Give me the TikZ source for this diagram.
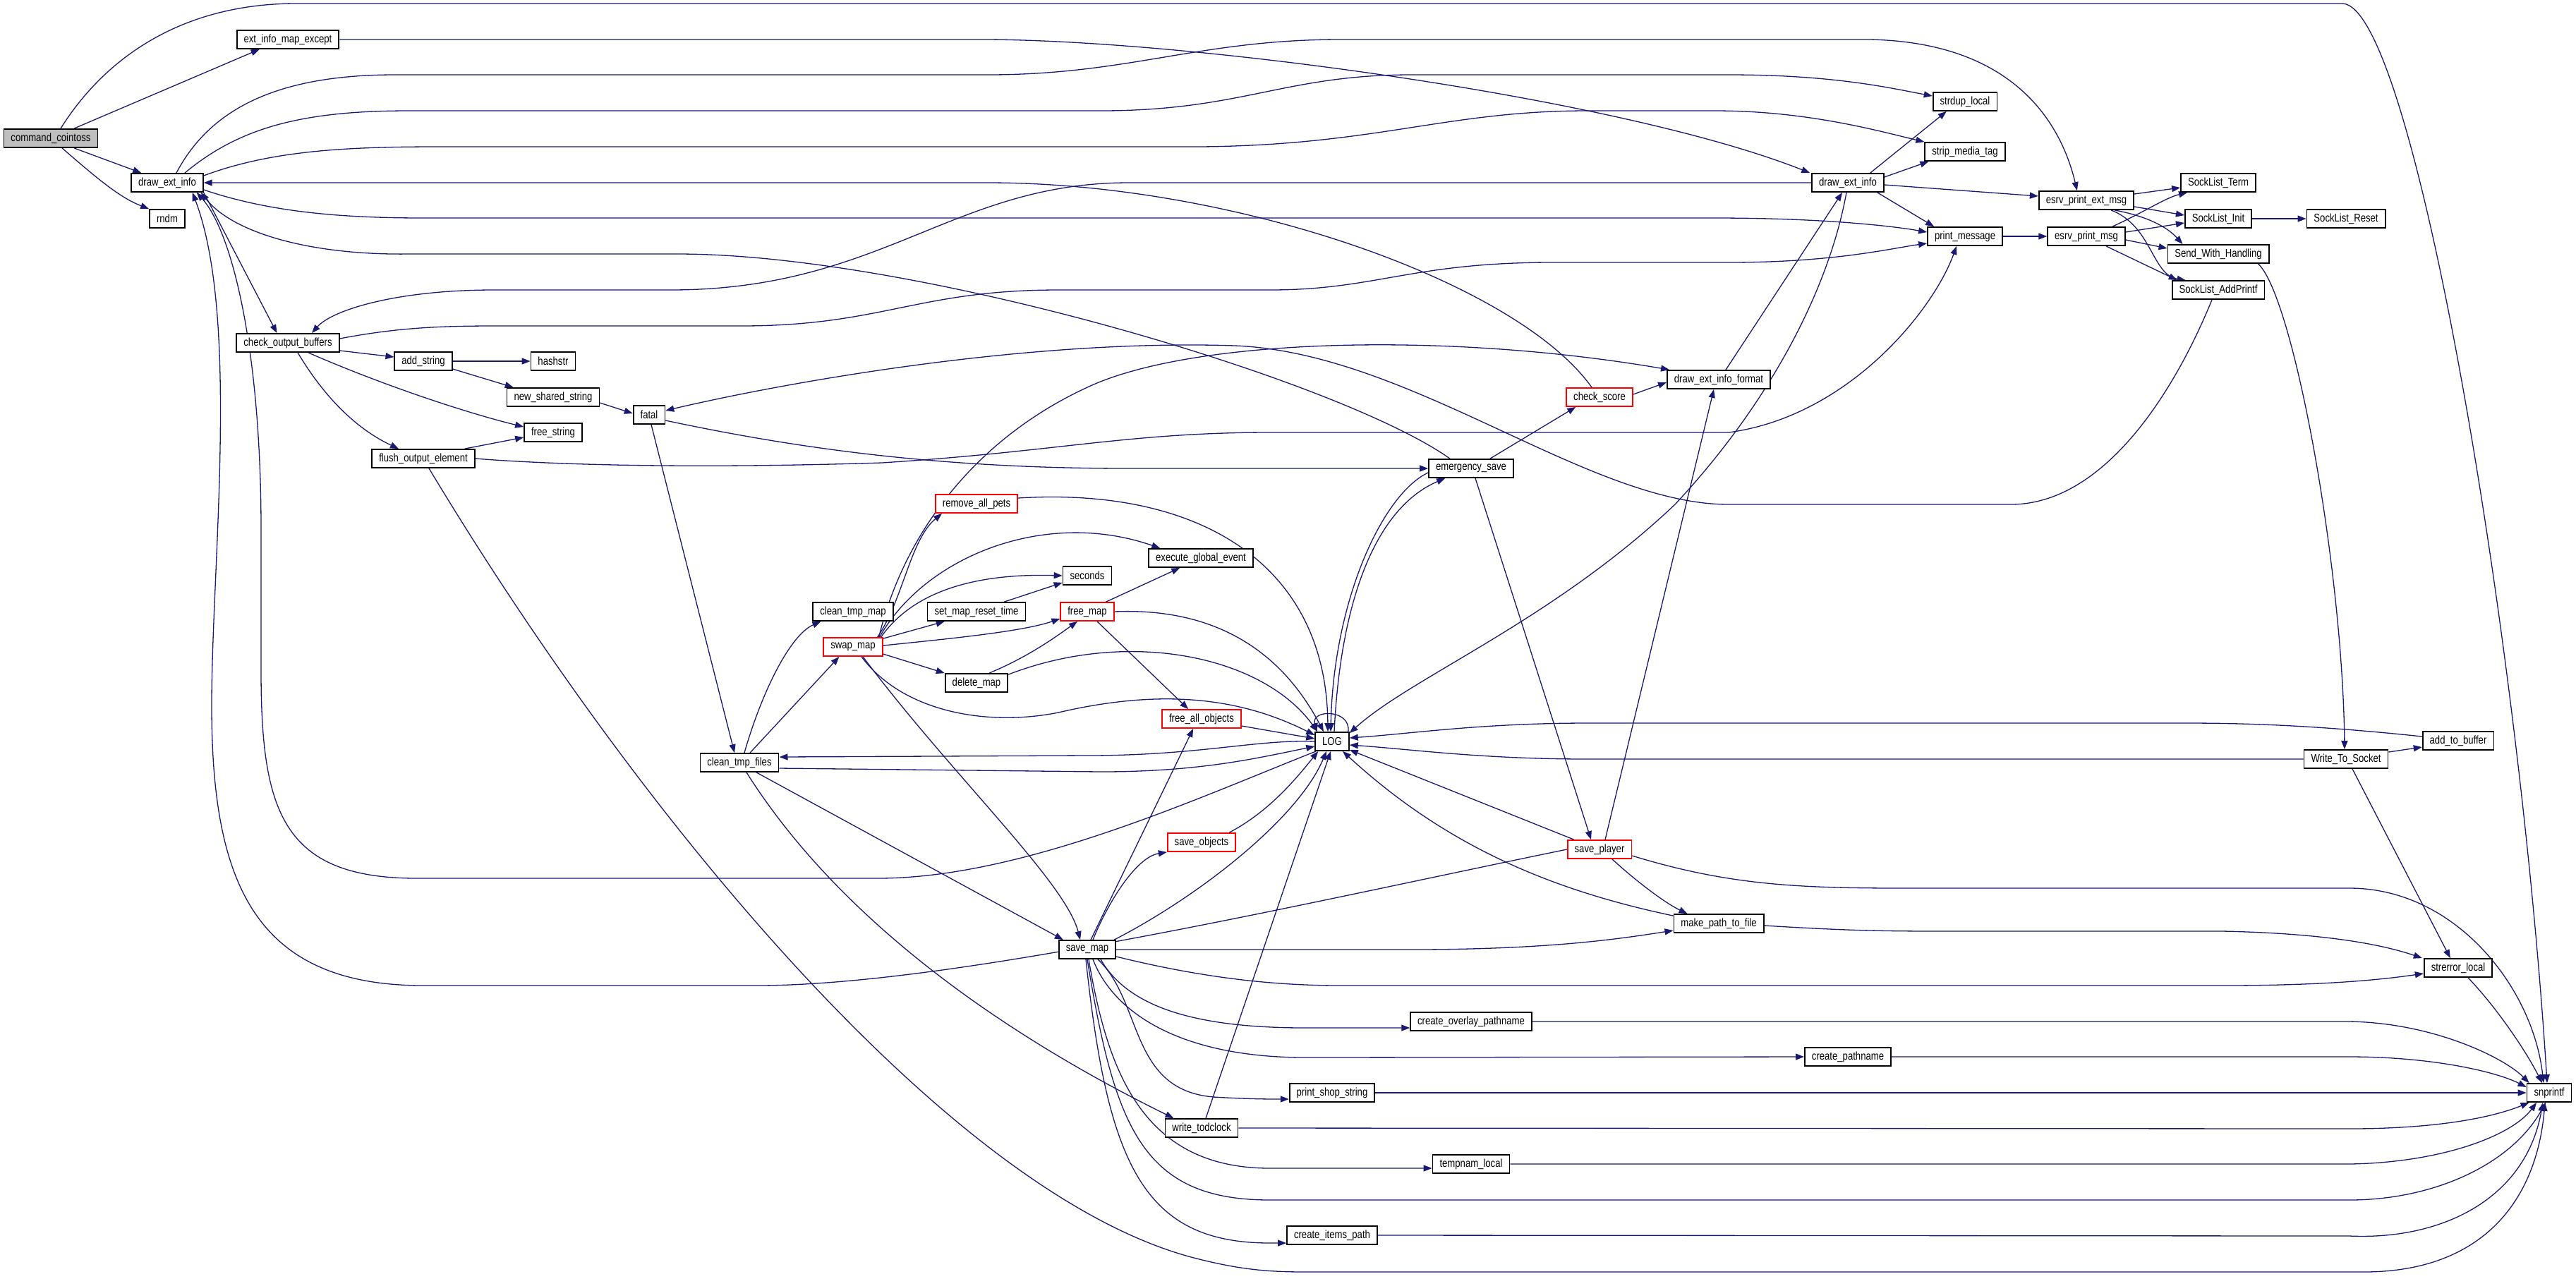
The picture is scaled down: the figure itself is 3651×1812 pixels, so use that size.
\documentclass[tikz,border=0pt]{standalone}
\usepackage{fontspec}
\usetikzlibrary{arrows.meta,calc}
\newfontfamily\fnfont{Liberation Sans}[FakeStretch=0.82]
\definecolor{edgeblue}{HTML}{191970}
\pgfdeclarelayer{edges}
\pgfsetlayers{edges,main}
\begin{document}
\begin{tikzpicture}[x=0.5pt,y=-0.5pt,
  fn/.style={draw=black,line width=0.9pt,fill=white,font=\fnfont\fontsize{8}{9}\selectfont,
    inner xsep=5pt,inner ysep=0pt,minimum height=13pt},
  trunc/.style={fn,draw=red},
  root/.style={fn,fill=black!25},
  call/.style={draw=edgeblue,line width=0.65pt,-{Triangle[length=6pt,width=4.5pt]}}]
  \useasboundingbox (0,0) rectangle (3651,1812);

  %% functions, one column per call depth
  \node [root] (cointoss) at (72,196) {command\_cointoss};
  \node [fn] (mapexcept) at (408,56) {ext\_info\_map\_except};
  \node [fn] (deiA) at (237,259) {draw\_ext\_info};
  \node [fn] (rndm) at (237,310) {rndm};
  \node [fn] (cob) at (408,486) {check\_output\_buffers};
  \node [fn] (addstr) at (600,512) {add\_string};
  \node [fn] (hashstr) at (784,512) {hashstr};
  \node [fn] (newshared) at (784,563) {new\_shared\_string};
  \node [fn] (freestr) at (784,613) {free\_string};
  \node [fn] (flush) at (600,650) {flush\_output\_element};
  \node [fn] (fatal) at (920,588) {fatal};
  \node [fn] (cleanfiles) at (1048,1081) {clean\_tmp\_files};
  \node [fn] (cleanmap) at (1209,867) {clean\_tmp\_map};
  \node [trunc] (swapmap) at (1209,917) {swap\_map};
  \node [trunc] (rmpets) at (1384,714) {remove\_all\_pets};
  \node [fn] (setreset) at (1384,867) {set\_map\_reset\_time};
  \node [fn] (deletemap) at (1384,968) {delete\_map};
  \node [fn] (seconds) at (1541,816) {seconds};
  \node [trunc] (freemap) at (1541,867) {free\_map};
  \node [fn] (savemap) at (1541,1346) {save\_map};
  \node [fn] (execglobal) at (1702,791) {execute\_global\_event};
  \node [trunc] (freeall) at (1703,1019) {free\_all\_objects};
  \node [trunc] (saveobj) at (1703,1194) {save\_objects};
  \node [fn] (writetod) at (1703,1599) {write\_todclock};
  \node [fn] (log) at (1888,1051) {LOG};
  \node [fn] (printshop) at (1888,1549) {print\_shop\_string};
  \node [fn] (itemspath) at (1888,1751) {create\_items\_path};
  \node [fn] (emsave) at (2085,664) {emergency\_save};
  \node [fn] (overlay) at (2085,1448) {create\_overlay\_pathname};
  \node [fn] (tempnam) at (2085,1650) {tempnam\_local};
  \node [trunc] (checkscore) at (2267,563) {check\_score};
  \node [trunc] (saveplayer) at (2267,1204) {save\_player};
  \node [fn] (deiformat) at (2436,538) {draw\_ext\_info\_format};
  \node [fn] (mkpath) at (2436,1309) {make\_path\_to\_file};
  \node [fn] (deiB) at (2619,259) {draw\_ext\_info};
  \node [fn] (pathname) at (2619,1498) {create\_pathname};
  \node [fn] (strdup) at (2785,144) {strdup\_local};
  \node [fn] (stripmedia) at (2785,215) {strip\_media\_tag};
  \node [fn] (printmsg) at (2785,335) {print\_message};
  \node [fn] (extmsg) at (2957,284) {esrv\_print\_ext\_msg};
  \node [fn] (esrvmsg) at (2957,335) {esrv\_print\_msg};
  \node [fn] (slterm) at (3144,259) {SockList\_Term};
  \node [fn] (slinit) at (3144,310) {SockList\_Init};
  \node [fn] (sendwh) at (3144,360) {Send\_With\_Handling};
  \node [fn] (sladd) at (3144,411) {SockList\_AddPrintf};
  \node [fn] (slreset) at (3325,310) {SockList\_Reset};
  \node [fn] (wts) at (3325,1076) {Write\_To\_Socket};
  \node [fn] (addbuf) at (3484,1050) {add\_to\_buffer};
  \node [fn] (strerr) at (3484,1372) {strerror\_local};
  \node [fn] (snprintf) at (3613,1549) {snprintf};

  \begin{pgfonlayer}{edges}
  %% command_cointoss
  \draw [call] ($(cointoss.north)+(14,0)$) .. controls (150,80) and (260,5) .. (420,5) -- (3320,5) .. controls (3420,8) and (3570,900) .. ($(snprintf.north)+(-3,0)$);
  \draw [call] ($(cointoss.north)+(33,0)$) -- ($(mapexcept.south west)+(33,0)$);
  \draw [call] ($(cointoss.south)+(33,0)$) -- ($(deiA.north west)+(15,0)$);
  \draw [call] ($(cointoss.south)+(16,0)$) .. controls (140,255) and (170,280) .. (rndm.north west);
  \draw [call] (mapexcept.east) -- (1400,56) .. controls (1700,58) and (2300,140) .. ($(deiB.north west)+(-2,0)$);

  %% left draw_ext_info
  \draw [call] ($(deiA.north)+(13,0)$) .. controls (300,150) and (400,106) .. (560,106) -- (1400,106) .. controls (1600,106) and (1700,56) .. (1900,56) -- (2650,56) .. controls (2850,60) and (2920,170) .. ($(extmsg.north west)+(55,0)$);
  \draw [call] ($(deiA.north)+(25,0)$) .. controls (340,180) and (430,157) .. (580,157) -- (1560,157) .. controls (1760,157) and (1820,106) .. (2000,106) -- (2450,106) .. controls (2600,106) and (2680,125) .. ($(strdup.west)+(0,-8)$);
  \draw [call] ($(deiA.east)+(0,-10)$) .. controls (380,215) and (480,208) .. (620,208) -- (1700,208) .. controls (1950,206) and (2050,157) .. (2250,157) -- (2430,157) .. controls (2560,157) and (2660,185) .. (stripmedia.north west);
  \draw [call] ($(deiA.east)+(0,10)$) .. controls (380,300) and (480,309) .. (600,309) -- (2430,309) .. controls (2580,309) and (2680,320) .. ($(printmsg.west)+(0,-6)$);
  \draw [call] (deiA.south east) -- ($(cob.north west)+(58,0)$);

  %% back into the left draw_ext_info
  \draw [call] ($(checkscore.north)+(-11,0)$) .. controls (2150,400) and (1750,259) .. (1400,259) -- (deiA.east);
  \draw [call] ($(emsave.north)+(-30,0)$) .. controls (1900,540) and (1300,360) .. (960,360) -- (580,360) .. controls (440,362) and (330,330) .. ($(deiA.south east)+(-4,0)$);
  \draw [call] ($(log.south west)+(2,0)$) .. controls (1700,1130) and (1450,1245) .. (1244,1245) -- (591,1245) .. controls (400,1245) and (370,1150) .. (370,950) -- (370,750) .. controls (370,500) and (330,330) .. ($(deiA.south east)+(-10,0)$);
  \draw [call] (saveplayer.west) .. controls (1850,1280) and (1350,1397) .. (1072,1397) -- (600,1397) .. controls (360,1397) and (300,1250) .. (300,1000) .. controls (300,800) and (340,450) .. ($(deiA.south east)+(-16,0)$);

  %% check_output_buffers
  \draw [call] (deiB.west) -- (1600,259) .. controls (1350,259) and (1250,411) .. (950,411) -- (700,411) .. controls (560,411) and (470,440) .. ($(cob.north)+(34,0)$);
  \draw [call] ($(cob.east)+(0,-6)$) .. controls (560,465) and (620,462) .. (700,462) -- (1050,462) .. controls (1250,462) and (1300,411) .. (1500,411) -- (1800,411) .. controls (1950,411) and (2000,372) .. (2200,372) -- (2450,372) .. controls (2600,372) and (2680,352) .. ($(printmsg.west)+(0,10)$);
  \draw [call] ($(cob.east)+(0,11)$) -- ($(addstr.west)+(0,-6)$);
  \draw [call] ($(cob.south)+(29,0)$) .. controls (540,545) and (660,585) .. ($(freestr.west)+(0,-8)$);
  \draw [call] ($(cob.south)+(14,0)$) .. controls (470,580) and (520,615) .. ($(flush.north)+(-35,0)$);
  \draw [call] (addstr.east) -- (hashstr.west);
  \draw [call] ($(addstr.east)+(0,11)$) -- ($(newshared.north west)+(10,0)$);
  \draw [call] ($(newshared.east)+(0,8)$) -- ($(fatal.west)+(0,-2)$);
  \draw [call] ($(flush.north east)+(-15,0)$) -- ($(freestr.west)+(0,7)$);
  \draw [call] (flush.east) .. controls (800,660) and (1000,664) .. (1250,656) .. controls (1500,640) and (1600,613) .. (1800,613) -- (2450,613) .. controls (2620,590) and (2740,440) .. ($(printmsg.south)+(-12,0)$);
  \draw [call] ($(flush.south)+(8,0)$) .. controls (900,1150) and (1350,1700) .. (1700,1785) .. controls (1760,1800) and (1800,1803) .. (1850,1803) -- (3350,1803) .. controls (3520,1803) and (3595,1700) .. ($(snprintf.south)+(-6,0)$);

  %% fatal
  \draw [call] ($(fatal.south)+(3,0)$) -- ($(cleanfiles.north)+(-7,0)$);
  \draw [call] ($(fatal.east)+(0,8)$) .. controls (1150,640) and (1350,664) .. (1600,664) -- (emsave.west);
  \draw [call] ($(sladd.south)+(-9,0)$) .. controls (3080,560) and (2980,715) .. (2850,715) -- (2450,715) .. controls (2250,715) and (2000,500) .. (1750,490) .. controls (1450,480) and (1100,545) .. ($(fatal.east)+(0,-6)$);

  %% clean_tmp_files
  \draw [call] ($(cleanfiles.north)+(7,0)$) .. controls (1080,980) and (1120,900) .. ($(cleanmap.south west)+(12,0)$);
  \draw [call] ($(cleanfiles.north)+(15,0)$) -- ($(swapmap.south west)+(23,0)$);
  \draw [call] ($(cleanfiles.south)+(24,0)$) -- ($(savemap.north west)+(7,0)$);
  \draw [call] ($(cleanfiles.south)+(10,0)$) .. controls (1200,1320) and (1450,1480) .. ($(writetod.north west)+(13,0)$);
  \draw [call] ($(cleanfiles.east)+(0,8)$) -- (1560,1094) .. controls (1700,1094) and (1780,1075) .. ($(log.west)+(0,7)$);
  \draw [call] (log.west) .. controls (1780,1048) and (1700,1071) .. (1540,1071) -- ($(cleanfiles.east)+(0,-8)$);

  %% swap_map
  \draw [call] ($(swapmap.north east)+(-8,0)$) .. controls (1280,850) and (1290,765) .. ($(rmpets.south west)+(10,0)$);
  \draw [call] ($(swapmap.north east)+(-5,0)$) .. controls (1310,790) and (1480,720) .. ($(execglobal.north west)+(17,0)$);
  \draw [call] ($(swapmap.north east)+(-3,0)$) .. controls (1300,830) and (1400,813) .. (seconds.west);
  \draw [call] ($(swapmap.north east)+(0,2)$) -- ($(setreset.south west)+(25,0)$);
  \draw [call] ($(swapmap.east)+(0,-2)$) .. controls (1350,905) and (1450,895) .. ($(freemap.west)+(0,10)$);
  \draw [call] ($(swapmap.east)+(0,10)$) -- (deletemap.north west);
  \draw [call] ($(swapmap.south)+(12,0)$) .. controls (1280,1010) and (1400,1030) .. (1500,1010) .. controls (1650,975) and (1760,990) .. ($(log.west)+(0,-9)$);
  \draw [call] ($(swapmap.south)+(14,0)$) .. controls (1350,1100) and (1510,1250) .. ($(savemap.north)+(-10,0)$);
  \draw [call] ($(swapmap.north east)+(-6,0)$) .. controls (1280,760) and (1380,620) .. (1550,545) .. controls (1700,480) and (2050,470) .. ($(deiformat.north west)+(4,0)$);
  \draw [call] ($(setreset.north east)+(-31,0)$) -- ($(seconds.south west)+(0,-4)$);
  \draw [call] ($(freemap.north east)+(-12,0)$) -- ($(execglobal.south west)+(45,0)$);
  \draw [call] ($(freemap.south)+(14,0)$) -- ($(freeall.north west)+(38,0)$);
  \draw [call] (freemap.east) .. controls (1750,860) and (1830,950) .. ($(log.north)+(-12,0)$);
  \draw [call] ($(deletemap.north)+(18,0)$) .. controls (1460,930) and (1500,900) .. ($(freemap.south)+(-14,0)$);
  \draw [call] ($(deletemap.north east)+(0,2)$) .. controls (1600,890) and (1790,930) .. ($(log.north west)+(4,0)$);
  \draw [call] ($(rmpets.east)+(0,-8)$) .. controls (1700,690) and (1880,800) .. ($(log.north)+(-6,0)$);
  \draw [call] ($(freeall.east)+(0,10)$) -- ($(log.west)+(0,-4)$);
  \draw [call] ($(saveobj.north east)+(-10,0)$) .. controls (1800,1150) and (1840,1100) .. ($(log.south west)+(5,0)$);

  %% save_map
  \draw [call] ($(savemap.north)+(5,0)$) -- ($(freeall.south west)+(45,0)$);
  \draw [call] ($(savemap.north)+(8,0)$) .. controls (1570,1280) and (1610,1215) .. (saveobj.south west);
  \draw [call] ($(savemap.north east)+(-3,0)$) .. controls (1700,1270) and (1840,1160) .. ($(log.south)+(-8,0)$);
  \draw [call] (savemap.east) -- (2000,1346) .. controls (2200,1346) and (2300,1330) .. ($(mkpath.west)+(0,10)$);
  \draw [call] ($(savemap.east)+(0,10)$) .. controls (1700,1385) and (1800,1397) .. (1900,1397) -- (3150,1397) .. controls (3300,1397) and (3380,1388) .. ($(strerr.west)+(0,8)$);
  \draw [call] ($(savemap.south)+(19,0)$) .. controls (1600,1430) and (1700,1457) .. (1850,1457) -- ($(overlay.west)+(0,9)$);
  \draw [call] ($(savemap.south)+(8,0)$) .. controls (1580,1440) and (1680,1499) .. (1850,1499) -- (pathname.west);
  \draw [call] ($(savemap.south)+(15,0)$) .. controls (1620,1420) and (1600,1545) .. (1720,1555) .. controls (1770,1558) and (1800,1558) .. ($(printshop.west)+(0,9)$);
  \draw [call] ($(savemap.south)+(2,0)$) .. controls (1570,1520) and (1620,1656) .. (1800,1656) -- ($(tempnam.west)+(0,6)$);
  \draw [call] (savemap.south) .. controls (1580,1600) and (1620,1701) .. (1800,1701) -- (3330,1701) .. controls (3450,1701) and (3560,1650) .. ($(snprintf.south)+(-5,0)$);
  \draw [call] ($(savemap.south)+(-2,0)$) .. controls (1570,1650) and (1620,1762) .. (1800,1762) -- ($(itemspath.west)+(0,11)$);

  %% write_todclock
  \draw [call] ($(writetod.north)+(6,0)$) -- ($(log.south)+(-2,0)$);
  \draw [call] (writetod.east) -- (3330,1600) .. controls (3450,1600) and (3530,1585) .. ($(snprintf.south west)+(4,0)$);

  %% LOG and emergency_save
  \draw [call] ($(log.north east)+(-2,0)$) .. controls (1915,1005) and (1858,1005) .. ($(log.north west)+(3,0)$);
  \draw [call] ($(log.north)+(3,0)$) .. controls (1900,850) and (1950,720) .. ($(emsave.south west)+(24,0)$);
  \draw [call] ($(emsave.west)+(0,6)$) .. controls (1960,700) and (1890,850) .. ($(log.north)+(-2,0)$);
  \draw [call] ($(emsave.north east)+(-34,0)$) -- ($(checkscore.south west)+(14,0)$);
  \draw [call] ($(emsave.south)+(6,0)$) -- ($(saveplayer.north)+(-12,0)$);
  \draw [call] ($(checkscore.east)+(0,-4)$) -- ($(deiformat.west)+(0,4)$);
  \draw [call] ($(deiformat.north)+(10,0)$) -- ($(deiB.south)+(-8,0)$);

  %% save_player
  \draw [call] ($(saveplayer.north)+(8,0)$) -- ($(deiformat.south)+(-7,0)$);
  \draw [call] ($(saveplayer.north west)+(10,0)$) -- ($(log.south east)+(0,-2)$);
  \draw [call] ($(saveplayer.south)+(18,0)$) .. controls (2320,1250) and (2360,1280) .. ($(mkpath.north west)+(20,0)$);
  \draw [call] ($(saveplayer.east)+(0,9)$) .. controls (2450,1255) and (2550,1259) .. (2700,1259) -- (3330,1259) .. controls (3480,1259) and (3590,1400) .. ($(snprintf.north)+(-8,0)$);
  \draw [call] ($(mkpath.north west)+(0,3)$) .. controls (2200,1262) and (2050,1200) .. ($(log.south)+(15,0)$);
  \draw [call] ($(mkpath.east)+(0,3)$) .. controls (2600,1318) and (2650,1320) .. (2750,1320) -- (3150,1320) .. controls (3300,1323) and (3380,1340) .. ($(strerr.north west)+(-2,0)$);

  %% right draw_ext_info
  \draw [call] ($(deiB.south)+(-2,0)$) .. controls (2590,420) and (2500,580) .. (2374,715) .. controls (2200,880) and (2000,960) .. ($(log.north east)+(0,2)$);
  \draw [call] ($(deiB.north east)+(-20,0)$) -- ($(strdup.south west)+(20,0)$);
  \draw [call] ($(deiB.east)+(0,-8)$) -- ($(stripmedia.south west)+(6,0)$);
  \draw [call] ($(deiB.east)+(0,3)$) -- ($(extmsg.west)+(0,-6)$);
  \draw [call] ($(deiB.south east)+(-10,0)$) -- ($(printmsg.north west)+(10,0)$);

  %% socket side
  \draw [call] (printmsg.east) -- (esrvmsg.west);
  \draw [call] ($(extmsg.east)+(0,-9)$) -- ($(slterm.west)+(0,7)$);
  \draw [call] ($(extmsg.east)+(0,9)$) -- ($(slinit.west)+(0,-5)$);
  \draw [call] ($(extmsg.south)+(40,0)$) .. controls (3040,306) and (3070,320) .. ($(sendwh.north west)+(22,0)$);
  \draw [call] ($(extmsg.south)+(35,0)$) .. controls (3050,320) and (3050,390) .. ($(sladd.north west)+(20,0)$);
  \draw [call] ($(esrvmsg.north)+(37,0)$) .. controls (3040,300) and (3070,280) .. ($(slterm.south west)+(10,0)$);
  \draw [call] ($(esrvmsg.east)+(0,-6)$) -- ($(slinit.west)+(0,6)$);
  \draw [call] ($(esrvmsg.east)+(0,5)$) -- ($(sendwh.west)+(0,-8)$);
  \draw [call] ($(esrvmsg.south)+(28,0)$) -- ($(sladd.north west)+(8,0)$);
  \draw [call] (slinit.east) -- (slreset.west);
  \draw [call] ($(sendwh.south east)+(-16,0)$) .. controls (3250,420) and (3320,800) .. ($(wts.north)+(-2,0)$);
  \draw [call] ($(wts.east)+(0,-10)$) -- ($(addbuf.west)+(0,9)$);
  \draw [call] ($(wts.south)+(9,0)$) -- ($(strerr.north west)+(38,0)$);
  \draw [call] (wts.west) -- (2250,1076) .. controls (2100,1076) and (2000,1062) .. ($(log.east)+(0,5)$);
  \draw [call] ($(addbuf.west)+(0,-6)$) .. controls (3300,1030) and (3200,1025) .. (3100,1025) -- (2250,1025) .. controls (2100,1025) and (2000,1040) .. ($(log.east)+(0,-5)$);
  \draw [call] ($(strerr.south)+(14,0)$) .. controls (3540,1430) and (3580,1490) .. ($(snprintf.north)+(-10,0)$);

  %% the pathname helpers all end in snprintf
  \draw [call] (overlay.east) -- (3330,1448) .. controls (3450,1450) and (3550,1500) .. ($(snprintf.north west)+(4,0)$);
  \draw [call] (pathname.east) -- (3330,1498) .. controls (3450,1498) and (3540,1520) .. ($(snprintf.west)+(0,-8)$);
  \draw [call] (printshop.east) -- (snprintf.west);
  \draw [call] (tempnam.east) -- (3330,1650) .. controls (3460,1648) and (3560,1610) .. ($(snprintf.south)+(-18,0)$);
  \draw [call] (itemspath.east) -- (3330,1752) .. controls (3460,1758) and (3580,1700) .. ($(snprintf.south)+(-9,0)$);
  \end{pgfonlayer}
\end{tikzpicture}
\end{document}
